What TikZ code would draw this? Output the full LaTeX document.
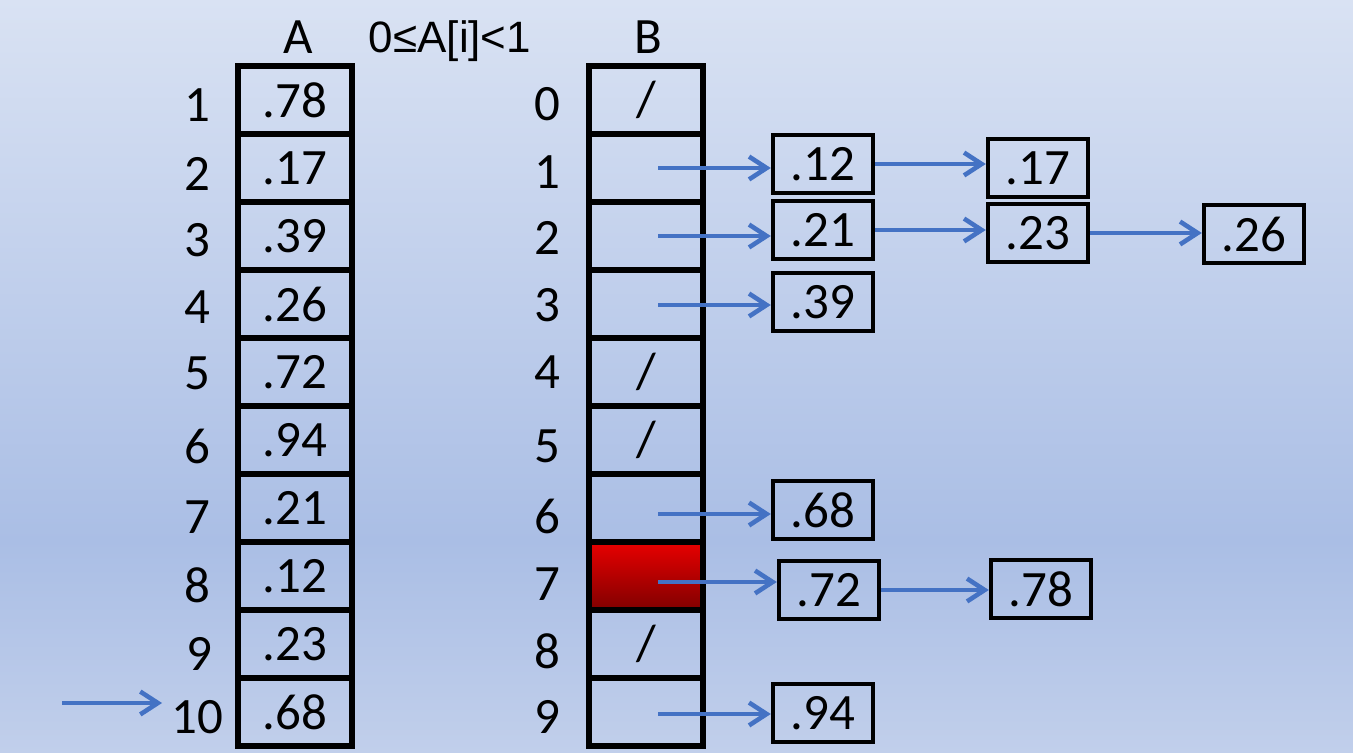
\documentclass[tikz,border=0pt]{standalone}
\usepackage{fontspec}
\setmainfont{Carlito}
\newfontfamily\symfont{Liberation Sans}
\usetikzlibrary{arrows.meta}

\definecolor{bgtop}{RGB}{217,226,243}
\definecolor{bgmid}{RGB}{170,190,229}
\definecolor{bgbot}{RGB}{193,207,235}
\definecolor{linkblue}{RGB}{68,114,196}
\definecolor{redtop}{RGB}{232,0,0}
\definecolor{redbot}{RGB}{128,0,0}

\tikzset{
  cell/.style={draw, line width=3pt, minimum width=2.28cm, minimum height=1.36cm,
    inner sep=0pt, font=\fontsize{29}{29}\selectfont},
  box/.style={draw, line width=2.5pt, minimum width=2cm, minimum height=1.16cm,
    inner sep=0pt, font=\fontsize{29}{29}\selectfont},
  idx/.style={inner sep=0pt, inner xsep=5pt, font=\fontsize{29}{29}\selectfont},
  link/.style={draw=linkblue, line width=2.6pt, -{Straight Barb[length=10pt,width=13pt]}},
}

\begin{document}
\begin{tikzpicture}[x=0.02cm,y=-0.02cm]
    \useasboundingbox (0,0) rectangle (1353,753);
    \shade[top color=bgtop,bottom color=bgmid] (0,0) rectangle (1353,541);
    \shade[top color=bgmid,bottom color=bgbot] (0,540) rectangle (1353,753);

    % headings
    \node[idx] (ta) at (298,37) {A};
    \node[idx] (tb) at (648,37) {B};
    \node[font=\symfont\fontsize{25}{25}\selectfont] (cond) at (450,41) {0≤A[i]<1};

    % array A
    \node[cell] (a1) at (295,100) {.78};
    \node[cell] (a2) at (295,168) {.17};
    \node[cell] (a3) at (295,236) {.39};
    \node[cell] (a4) at (295,304) {.26};
    \node[cell] (a5) at (295,372) {.72};
    \node[cell] (a6) at (295,440) {.94};
    \node[cell] (a7) at (295,508) {.21};
    \node[cell] (a8) at (295,576) {.12};
    \node[cell] (a9) at (295,644) {.23};
    \node[cell] (a10) at (295,712) {.68};

    \node[idx] (n1) at (197,105) {1};
    \node[idx] (n2) at (197,174) {2};
    \node[idx] (n3) at (197,240) {3};
    \node[idx] (n4) at (197,307) {4};
    \node[idx] (n5) at (197,373) {5};
    \node[idx] (n6) at (197,446) {6};
    \node[idx] (n7) at (197,517) {7};
    \node[idx] (n8) at (197,585) {8};
    \node[idx] (n9) at (199,654) {9};
    \node[idx] (n10) at (197,717) {10};

    % array B
    \node[cell] (b0) at (646,100) {/};
    \node[cell] (b1) at (646,168) {};
    \node[cell] (b2) at (646,236) {};
    \node[cell] (b3) at (646,304) {};
    \node[cell] (b4) at (646,372) {/};
    \node[cell] (b5) at (646,440) {/};
    \node[cell] (b6) at (646,508) {};
    \node[cell,top color=redtop,bottom color=redbot] (b7) at (646,576) {};
    \node[cell] (b8) at (646,644) {/};
    \node[cell] (b9) at (646,712) {};

    \node[idx] (m0) at (547,104) {0};
    \node[idx] (m1) at (547,172) {1};
    \node[idx] (m2) at (547,238) {2};
    \node[idx] (m3) at (547,305) {3};
    \node[idx] (m4) at (547,372) {4};
    \node[idx] (m5) at (547,446) {5};
    \node[idx] (m6) at (547,516) {6};
    \node[idx] (m7) at (547,584) {7};
    \node[idx] (m8) at (547,651) {8};
    \node[idx] (m9) at (547,717) {9};

    % lists
    \node[box] (l12) at (823,164) {.12};
    \node[box] (l17) at (1038,168) {.17};
    \node[box] (l21) at (823,230) {.21};
    \node[box] (l23) at (1038,233) {.23};
    \node[box] (l26) at (1254,234) {.26};
    \node[box] (l39) at (823,302) {.39};
    \node[box] (l68) at (823,510) {.68};
    \node[box] (l72) at (829,590) {.72};
    \node[box] (l78) at (1041,589) {.78};
    \node[box] (l94) at (823,713) {.94};

    \coordinate (s1) at (658,168);
    \coordinate (s2) at (658,236);
    \coordinate (s3) at (658,305);
    \coordinate (s6) at (658,514);
    \coordinate (s7) at (658,582);
    \coordinate (s9) at (658,714);
    \coordinate (in) at (62,703);

    \draw[link] (s1) -- (s1 -| l12.west);
    \draw[link] (s2) -- (s2 -| l21.west);
    \draw[link] (s3) -- (s3 -| l39.west);
    \draw[link] (s6) -- (s6 -| l68.west);
    \draw[link] (s7) -- (s7 -| l72.west);
    \draw[link] (s9) -- (s9 -| l94.west);

    \draw[link] (l12.east) -- (l12.east -| l17.west);
    \draw[link] (l21.east) -- (l21.east -| l23.west);
    \draw[link] (l23.east) -- (l23.east -| l26.west);
    \draw[link] (l72.east) -- (l72.east -| l78.west);

    \draw[link] (in) -- (in -| n10.west);
\end{tikzpicture}
\end{document}
